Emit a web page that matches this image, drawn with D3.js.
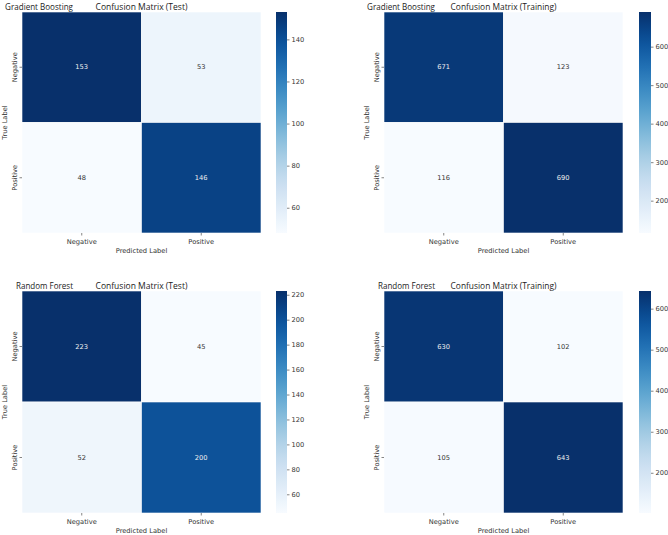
<!DOCTYPE html>
<html><head><meta charset="utf-8">
<script src="https://cdn.jsdelivr.net/npm/d3@7"></script>
<style>
body{margin:0;background:#fff;}
svg{display:block;}
</style></head>
<body>
<svg id="c" width="668" height="535"></svg>
<script>
const classes = ["Negative", "Positive"];
const models = ["Gradient Boosting", "Gradient Boosting", "Random Forest", "Random Forest"];
const titles = ["Confusion Matrix (Test)", "Confusion Matrix (Training)", "Confusion Matrix (Test)", "Confusion Matrix (Training)"];
const gbTest = [[153, 53], [48, 146]];
const gbTrain = [[671, 123], [116, 690]];
const rfTest = [[223, 45], [52, 200]];
const rfTrain = [[630, 102], [105, 643]];
const gbTestTicks = [60, 80, 100, 120, 140];
const gbTrainTicks = [200, 300, 400, 500, 600];
const rfTestTicks = [60, 80, 100, 120, 140, 160, 180, 200, 220];
const rfTrainTicks = [200, 300, 400, 500, 600];

const matrices = [gbTest, gbTrain, rfTest, rfTrain];
const tickSets = [gbTestTicks, gbTrainTicks, rfTestTicks, rfTrainTicks];

// layout per panel
const panels = [
  {x0: 22, x1: 261, y0: 12, y1: 233, cb0: 276, cb1: 287},
  {x0: 384, x1: 623, y0: 12, y1: 233, cb0: 639, cb1: 651},
  {x0: 22, x1: 261, y0: 291, y1: 513, cb0: 276, cb1: 287},
  {x0: 384, x1: 623, y0: 291, y1: 513, cb0: 639, cb1: 651}
];

const svg = d3.select("#c");
const tickFont = "DejaVu Sans";
const tfs = 6.7;
const txtColor = "#333333";
const titleFont = "'Open Sans', 'Noto Sans', sans-serif";

function fitText(sel, target) {
  const w = sel.node().getComputedTextLength();
  const fs = parseFloat(sel.attr("font-size"));
  sel.attr("font-size", fs * target / w);
}

panels.forEach((p, i) => {
  const m = matrices[i];
  const flat = m.flat();
  const vmin = d3.min(flat), vmax = d3.max(flat);
  const color = d3.scaleSequential(d3.interpolateBlues).domain([vmin, vmax]);
  const x = d3.scaleBand().domain(classes).range([p.x0, p.x1]);
  const y = d3.scaleBand().domain(classes).range([p.y0, p.y1]);
  const g = svg.append("g");

  const cells = [];
  m.forEach((row, r) => row.forEach((v, c) => cells.push({r: classes[r], c: classes[c], v})));

  g.selectAll("rect.cell").data(cells).enter().append("rect")
    .attr("class", "cell")
    .attr("x", d => x(d.c)).attr("y", d => y(d.r))
    .attr("width", x.bandwidth()).attr("height", y.bandwidth())
    .attr("fill", d => color(d.v))
    .attr("stroke", "#ffffff").attr("stroke-width", 0.6);

  g.selectAll("text.ann").data(cells).enter().append("text")
    .attr("x", d => x(d.c) + x.bandwidth() / 2)
    .attr("y", d => y(d.r) + y.bandwidth() / 2)
    .attr("text-anchor", "middle").attr("dominant-baseline", "central")
    .attr("font-family", tickFont).attr("font-size", tfs)
    .attr("fill", d => (d.v - vmin) / (vmax - vmin) > 0.5 ? "#f0f0f0" : txtColor)
    .text(d => d.v);

  // x axis
  const xa = g.append("g").attr("transform", `translate(0,${p.y1})`)
    .call(d3.axisBottom(x).tickSize(2.5).tickPadding(2));
  xa.select(".domain").remove();
  xa.selectAll("line").attr("stroke", txtColor).attr("stroke-width", 0.6);
  xa.selectAll("text").attr("font-family", tickFont).attr("font-size", tfs).attr("fill", txtColor)
    .attr("dy", 0).attr("y", 8.5).attr("dominant-baseline", "central");

  // y axis
  const ya = g.append("g").attr("transform", `translate(${p.x0},0)`)
    .call(d3.axisLeft(y).tickSize(2.5).tickPadding(2));
  ya.select(".domain").remove();
  ya.selectAll("line").attr("stroke", txtColor).attr("stroke-width", 0.6);
  ya.selectAll("text").attr("font-family", tickFont).attr("font-size", tfs).attr("fill", txtColor)
    .attr("text-anchor", "middle").attr("dy", 0).attr("dominant-baseline", "central")
    .attr("transform", "rotate(-90)")
    .attr("x", 0).attr("y", -7.5);

  // axis labels
  g.append("text").attr("x", (p.x0 + p.x1) / 2).attr("y", p.y1 + 17.8)
    .attr("text-anchor", "middle").attr("dominant-baseline", "central")
    .attr("font-family", tickFont).attr("font-size", tfs).attr("fill", txtColor)
    .text("Predicted Label");
  g.append("text")
    .attr("transform", `translate(${p.x0 - 17.5},${(p.y0 + p.y1) / 2}) rotate(-90)`)
    .attr("text-anchor", "middle").attr("dominant-baseline", "central")
    .attr("font-family", tickFont).attr("font-size", tfs).attr("fill", txtColor)
    .text("True Label");

  // titles
  const t1 = g.append("text").attr("x", (p.x0 + p.x1) / 2).attr("y", p.y0 - 6)
    .attr("text-anchor", "middle").attr("dominant-baseline", "central")
    .attr("font-family", titleFont).attr("font-size", 10).attr("fill", "#222")
    .text(titles[i]);
  fitText(t1, i % 2 === 0 ? 92 : 106);
  const t2 = g.append("text").attr("x", p.x0 + 51).attr("y", p.y0 - 6)
    .attr("text-anchor", "end").attr("dominant-baseline", "central")
    .attr("font-family", titleFont).attr("font-size", 10).attr("fill", "#222")
    .text(models[i]);
  fitText(t2, i < 2 ? 68 : 57);

  // colorbar
  const cy = d3.scaleLinear().domain([vmin, vmax]).range([p.y1, p.y0]);
  const gradId = "grad" + i;
  const grad = svg.append("defs").append("linearGradient").attr("id", gradId)
    .attr("x1", 0).attr("y1", 1).attr("x2", 0).attr("y2", 0);
  d3.range(0, 1.0001, 0.05).forEach(t => {
    grad.append("stop").attr("offset", t).attr("stop-color", d3.interpolateBlues(t));
  });
  g.append("rect").attr("x", p.cb0).attr("y", p.y0)
    .attr("width", p.cb1 - p.cb0).attr("height", p.y1 - p.y0)
    .attr("fill", `url(#${gradId})`);
  const ca = g.append("g").attr("transform", `translate(${p.cb1},0)`)
    .call(d3.axisRight(cy).tickValues(tickSets[i]).tickSize(2.5).tickPadding(2));
  ca.select(".domain").remove();
  ca.selectAll("line").attr("stroke", txtColor).attr("stroke-width", 0.6);
  ca.selectAll("text").attr("font-family", tickFont).attr("font-size", tfs).attr("fill", txtColor);
});
</script>
</body></html>
